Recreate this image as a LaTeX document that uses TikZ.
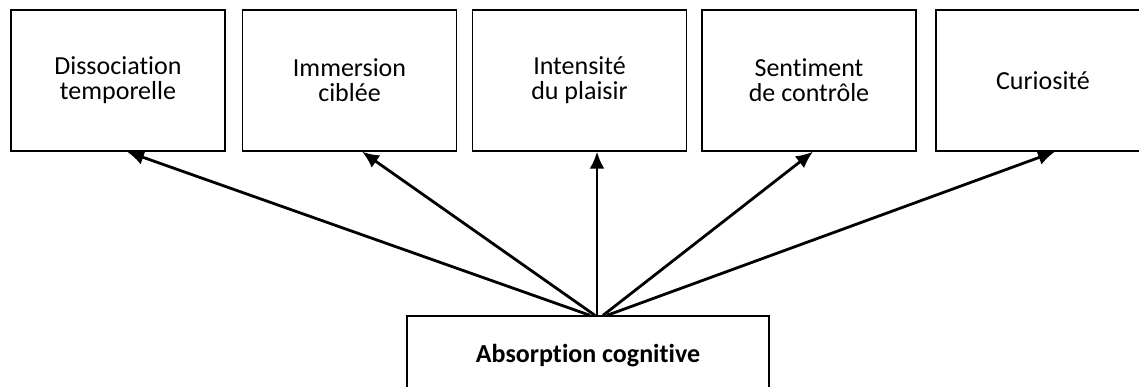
\documentclass[tikz,border=0pt]{standalone}
\usepackage{fontspec}
\setmainfont{Carlito}[Ligatures={NoCommon}]
\usetikzlibrary{arrows.meta}
\usetikzlibrary{math}

\tikzset{
  dimbox/.style={draw, line width=1.3pt, minimum width=214pt, minimum height=141pt,
    inner sep=0pt, align=center, font=\fontsize{26}{25}\selectfont},
  absbox/.style={draw, fill=white, line width=1.3pt, minimum width=362pt, minimum height=80pt,
    inner sep=0pt, font=\fontsize{26}{25}\selectfont\bfseries},
  lien/.style={-{Latex[length=17pt,width=15pt]}, line width=2.8pt}
}

\begin{document}
\begin{tikzpicture}[x=1pt,y=-1pt]
\tikzmath{
\ytop=80.5;
\w=1139;
\h=387;
}
\clip (0,0) rectangle (\w,\h);

\node[dimbox] (dis) at (118,\ytop) {Dissociation\\temporelle};
\node[dimbox] (imm) at (349.5,\ytop) {Immersion\\ciblée};
\node[dimbox] (int) at (579.5,\ytop) {Intensité\\du plaisir};
\node[dimbox] (sen) at (809,\ytop) {Sentiment\\de contrôle};
\node[dimbox] (cur) at (1043,\ytop) {Curiosité};

\node[absbox] (abs) at (588,356) {Absorption cognitive};

\draw[lien] ([xshift=2pt]abs.north) -- ([xshift=9pt]dis.south);
\draw[lien] ([xshift=7pt]abs.north) -- ([xshift=12.5pt]imm.south);
\draw[lien] ([xshift=9pt]abs.north) -- ([xshift=17.5pt]int.south);
\draw[lien] ([xshift=15pt]abs.north) -- ([xshift=4pt]sen.south);
\draw[lien] ([xshift=19pt]abs.north) -- ([xshift=12pt]cur.south);

\end{tikzpicture}
\end{document}
